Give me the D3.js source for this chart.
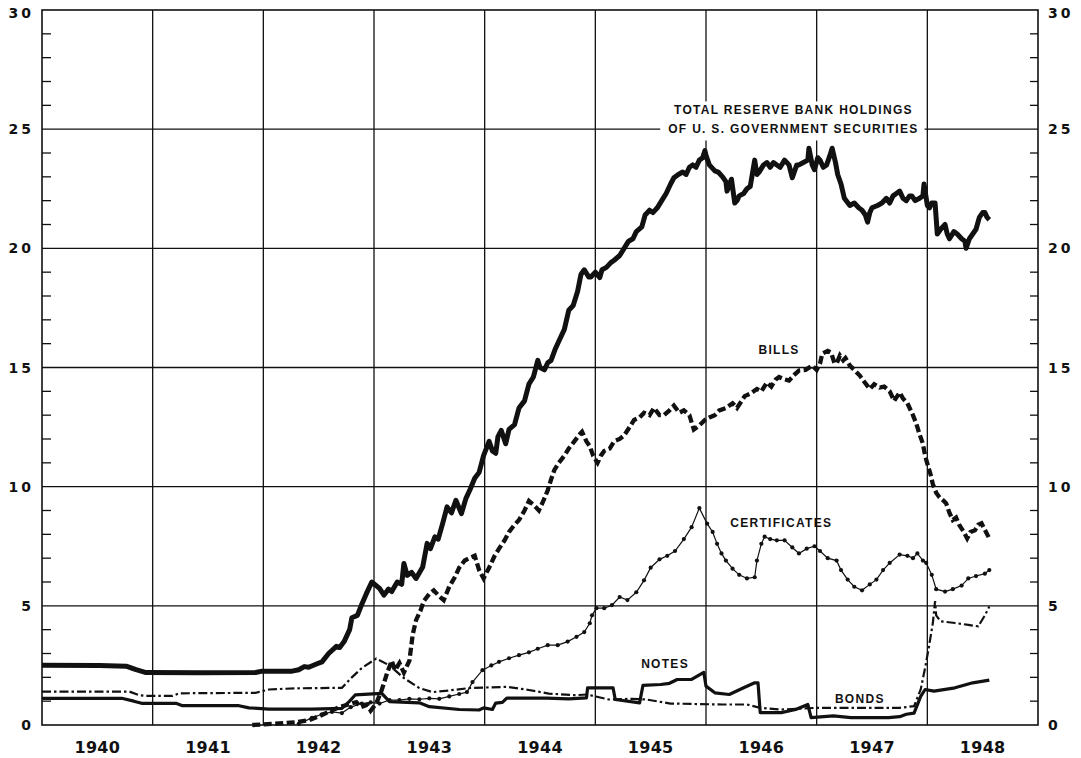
<!DOCTYPE html>
<html>
<head>
<meta charset="utf-8">
<script src="https://cdn.jsdelivr.net/npm/d3@7/dist/d3.min.js"></script>
<style>
  html, body { margin: 0; padding: 0; background: #fff; }
  svg { display: block; }
  .tick-num { font-family: "DejaVu Sans", sans-serif; font-weight: bold; font-size: 14px; letter-spacing: 3px; fill: #111; }
  .year { font-family: "DejaVu Sans", sans-serif; font-weight: bold; font-size: 16px; letter-spacing: 0.3px; fill: #111; }
  .lbl { font-family: "Liberation Sans", Arial, sans-serif; font-weight: bold; font-size: 12px; letter-spacing: 1.3px; fill: #111; }
</style>
</head>
<body>
<div id="chart"></div>
<script>
// billions of dollars, [year, value]
const totalHoldings = [
  [1940.00, 2.51], [1940.52, 2.50], [1940.76, 2.47], [1940.85, 2.32], [1940.94, 2.20], [1941.42, 2.19],
  [1941.93, 2.20], [1941.99, 2.26], [1942.26, 2.26], [1942.32, 2.32], [1942.37, 2.45], [1942.41, 2.42],
  [1942.48, 2.56], [1942.53, 2.65], [1942.59, 3.0], [1942.66, 3.3], [1942.69, 3.25], [1942.73, 3.5],
  [1942.78, 4.0], [1942.80, 4.5], [1942.85, 4.6], [1942.88, 4.96], [1942.93, 5.5], [1942.98, 6.0],
  [1943.05, 5.73], [1943.09, 5.45], [1943.13, 5.7], [1943.16, 5.6], [1943.21, 6.0], [1943.25, 5.9],
  [1943.27, 6.78], [1943.30, 6.28], [1943.34, 6.4], [1943.38, 6.15], [1943.44, 6.63], [1943.48, 7.62],
  [1943.51, 7.4], [1943.55, 7.89], [1943.58, 7.8], [1943.62, 8.45], [1943.66, 9.15], [1943.70, 8.9],
  [1943.74, 9.43], [1943.79, 8.87], [1943.83, 9.5], [1943.87, 9.9], [1943.91, 10.35], [1943.95, 10.6],
  [1943.99, 11.3], [1944.04, 11.9], [1944.07, 11.5], [1944.10, 11.4], [1944.12, 12.1], [1944.15, 12.36],
  [1944.19, 11.8], [1944.22, 12.4], [1944.27, 12.6], [1944.31, 13.3], [1944.36, 13.6], [1944.40, 14.3],
  [1944.44, 14.6], [1944.48, 15.3], [1944.50, 15.0], [1944.54, 14.9], [1944.57, 15.2], [1944.60, 15.3],
  [1944.64, 15.8], [1944.67, 16.1], [1944.72, 16.6], [1944.76, 17.4], [1944.80, 17.6], [1944.84, 18.2],
  [1944.87, 18.9], [1944.90, 19.1], [1944.94, 18.8], [1944.96, 18.8], [1945.00, 19.0], [1945.04, 18.77],
  [1945.06, 19.1], [1945.10, 19.2], [1945.14, 19.4], [1945.17, 19.5], [1945.22, 19.7], [1945.26, 20.0],
  [1945.30, 20.3], [1945.34, 20.4], [1945.37, 20.7], [1945.42, 20.9], [1945.45, 21.4], [1945.49, 21.6],
  [1945.52, 21.5], [1945.56, 21.7], [1945.60, 22.0], [1945.64, 22.3], [1945.68, 22.7], [1945.71, 22.96],
  [1945.75, 23.1], [1945.79, 23.2], [1945.82, 23.1], [1945.85, 23.4], [1945.88, 23.5], [1945.91, 23.4],
  [1945.94, 23.7], [1945.97, 23.8], [1945.99, 24.1], [1946.00, 23.9], [1946.03, 23.5], [1946.08, 23.25],
  [1946.11, 23.2], [1946.15, 23.0], [1946.18, 22.8], [1946.19, 22.4], [1946.23, 22.9], [1946.26, 21.9],
  [1946.28, 22.0], [1946.30, 22.2], [1946.34, 22.3], [1946.37, 22.5], [1946.40, 22.6], [1946.44, 23.7],
  [1946.46, 23.1], [1946.48, 23.2], [1946.52, 23.5], [1946.55, 23.6], [1946.58, 23.4], [1946.61, 23.6],
  [1946.64, 23.5], [1946.67, 23.4], [1946.71, 23.7], [1946.75, 23.5], [1946.78, 22.96], [1946.82, 23.5],
  [1946.84, 23.5], [1946.88, 23.6], [1946.92, 23.7], [1946.93, 24.2], [1946.96, 23.5], [1946.98, 23.3],
  [1947.01, 23.8], [1947.03, 23.7], [1947.06, 23.4], [1947.09, 23.5], [1947.12, 23.9], [1947.14, 24.2],
  [1947.17, 23.6], [1947.19, 23.1], [1947.22, 22.7], [1947.25, 22.1], [1947.30, 21.8], [1947.34, 21.9],
  [1947.38, 21.7], [1947.41, 21.6], [1947.44, 21.4], [1947.46, 21.1], [1947.48, 21.5], [1947.50, 21.7],
  [1947.55, 21.8], [1947.59, 21.9], [1947.63, 22.1], [1947.66, 21.9], [1947.69, 22.2], [1947.72, 22.3],
  [1947.75, 22.4], [1947.78, 22.1], [1947.81, 22.0], [1947.84, 22.2], [1947.86, 22.2], [1947.89, 22.0],
  [1947.93, 22.1], [1947.96, 22.2], [1947.97, 22.7], [1948.00, 21.8], [1948.02, 21.7], [1948.04, 21.9],
  [1948.07, 21.9], [1948.09, 20.6], [1948.12, 20.8], [1948.16, 21.0], [1948.18, 20.6], [1948.20, 20.4],
  [1948.24, 20.7], [1948.27, 20.6], [1948.31, 20.4], [1948.34, 20.3], [1948.35, 20.0], [1948.38, 20.4],
  [1948.41, 20.6], [1948.44, 20.8], [1948.47, 21.3], [1948.50, 21.5], [1948.52, 21.5], [1948.54, 21.3],
  [1948.56, 21.2]
];

const bills = [
  [1941.90, 0.0], [1942.10, 0.05], [1942.30, 0.12], [1942.41, 0.2], [1942.53, 0.42], [1942.61, 0.6],
  [1942.69, 0.75], [1942.76, 0.85], [1942.84, 0.96], [1942.88, 0.75], [1942.94, 0.85], [1942.97, 0.6],
  [1943.02, 0.9], [1943.07, 1.47], [1943.12, 2.2], [1943.16, 2.7], [1943.19, 2.3], [1943.23, 2.6],
  [1943.27, 2.2], [1943.32, 2.7], [1943.35, 3.8], [1943.38, 4.4], [1943.42, 4.8], [1943.45, 5.2],
  [1943.50, 5.5], [1943.54, 5.65], [1943.59, 5.4], [1943.63, 5.24], [1943.68, 5.8], [1943.73, 6.2],
  [1943.77, 6.6], [1943.82, 6.9], [1943.86, 7.0], [1943.91, 7.1], [1943.95, 6.5], [1943.99, 6.15],
  [1944.04, 6.6], [1944.09, 7.1], [1944.13, 7.4], [1944.18, 7.75], [1944.22, 8.1], [1944.27, 8.4],
  [1944.31, 8.6], [1944.36, 9.0], [1944.40, 9.4], [1944.45, 9.2], [1944.49, 9.0], [1944.53, 9.4],
  [1944.57, 9.85], [1944.60, 10.3], [1944.63, 10.7], [1944.67, 11.0], [1944.72, 11.3], [1944.76, 11.6],
  [1944.81, 11.9], [1944.86, 12.2], [1944.88, 12.3], [1944.92, 11.9], [1944.95, 11.7], [1944.98, 11.3],
  [1945.02, 11.0], [1945.05, 11.3], [1945.08, 11.5], [1945.13, 11.6], [1945.17, 11.9], [1945.22, 12.0],
  [1945.26, 12.15], [1945.31, 12.5], [1945.35, 12.8], [1945.40, 12.9], [1945.44, 13.1], [1945.49, 13.0],
  [1945.53, 13.3], [1945.58, 13.0], [1945.62, 13.0], [1945.67, 13.2], [1945.71, 13.4], [1945.76, 13.1],
  [1945.80, 13.2], [1945.85, 13.0], [1945.89, 12.4], [1945.94, 12.57], [1945.99, 12.8], [1946.03, 12.9],
  [1946.08, 13.0], [1946.12, 13.2], [1946.18, 13.3], [1946.24, 13.5], [1946.28, 13.3], [1946.35, 13.8],
  [1946.40, 13.9], [1946.46, 14.1], [1946.50, 14.0], [1946.55, 14.37], [1946.59, 14.2], [1946.63, 14.5],
  [1946.66, 14.6], [1946.71, 14.5], [1946.75, 14.45], [1946.80, 14.7], [1946.84, 14.87], [1946.90, 14.9],
  [1946.96, 15.08], [1947.00, 14.9], [1947.03, 15.16], [1947.05, 15.58], [1947.10, 15.7], [1947.13, 15.63],
  [1947.16, 15.2], [1947.18, 15.16], [1947.21, 15.5], [1947.24, 15.3], [1947.26, 15.4], [1947.30, 15.08],
  [1947.34, 14.9], [1947.39, 14.66], [1947.43, 14.4], [1947.48, 14.1], [1947.52, 14.3], [1947.57, 14.16],
  [1947.61, 14.2], [1947.66, 14.0], [1947.70, 13.6], [1947.75, 13.95], [1947.78, 13.7], [1947.82, 13.5],
  [1947.87, 13.0], [1947.90, 12.65], [1947.93, 12.2], [1947.96, 11.8], [1947.98, 11.3], [1948.00, 10.97],
  [1948.03, 10.5], [1948.05, 10.1], [1948.08, 9.75], [1948.11, 9.55], [1948.15, 9.4], [1948.17, 9.3],
  [1948.20, 8.9], [1948.23, 8.6], [1948.26, 8.7], [1948.29, 8.38], [1948.33, 8.1], [1948.36, 7.83],
  [1948.39, 8.1], [1948.43, 8.17], [1948.46, 8.4], [1948.49, 8.46], [1948.53, 8.1], [1948.56, 7.83]
];

const certificates = [
  [1942.32, 0.05], [1942.44, 0.3], [1942.53, 0.45], [1942.62, 0.55], [1942.71, 0.5], [1942.79, 0.75],
  [1942.89, 0.9], [1942.97, 0.95], [1943.05, 0.9], [1943.14, 1.05], [1943.23, 1.05], [1943.32, 1.1],
  [1943.41, 1.08], [1943.50, 1.12], [1943.59, 1.1], [1943.68, 1.2], [1943.77, 1.3], [1943.84, 1.38],
  [1943.89, 1.8], [1943.98, 2.3], [1944.06, 2.5], [1944.13, 2.65], [1944.22, 2.8], [1944.31, 2.93],
  [1944.40, 3.05], [1944.48, 3.2], [1944.57, 3.35], [1944.66, 3.35], [1944.75, 3.5], [1944.83, 3.7],
  [1944.90, 3.9], [1944.95, 4.27], [1944.97, 4.6], [1945.01, 4.9], [1945.08, 4.9], [1945.15, 5.03],
  [1945.22, 5.37], [1945.29, 5.24], [1945.37, 5.57], [1945.44, 6.07], [1945.50, 6.6], [1945.58, 6.95],
  [1945.65, 7.1], [1945.72, 7.3], [1945.80, 7.8], [1945.87, 8.3], [1945.94, 9.1], [1946.01, 8.45],
  [1946.06, 8.1], [1946.10, 7.6], [1946.14, 7.2], [1946.18, 6.9], [1946.24, 6.56], [1946.30, 6.3],
  [1946.37, 6.15], [1946.44, 6.2], [1946.46, 6.9], [1946.50, 7.6], [1946.53, 7.9], [1946.58, 7.8],
  [1946.64, 7.75], [1946.71, 7.75], [1946.78, 7.45], [1946.84, 7.2], [1946.91, 7.4], [1946.98, 7.5],
  [1947.03, 7.3], [1947.10, 7.0], [1947.18, 6.9], [1947.22, 6.5], [1947.28, 6.1], [1947.34, 5.8],
  [1947.41, 5.65], [1947.48, 5.9], [1947.54, 6.1], [1947.60, 6.5], [1947.66, 6.8], [1947.75, 7.15],
  [1947.82, 7.1], [1947.87, 7.0], [1947.91, 7.2], [1947.96, 6.9], [1947.99, 6.8], [1948.04, 6.3],
  [1948.08, 5.7], [1948.16, 5.6], [1948.23, 5.7], [1948.31, 5.85], [1948.37, 6.15], [1948.44, 6.25],
  [1948.52, 6.35], [1948.56, 6.5]
];

const notes = [
  [1940.00, 1.12], [1940.72, 1.12], [1940.83, 1.0], [1940.90, 0.91], [1941.21, 0.91], [1941.27, 0.81],
  [1941.78, 0.81], [1941.87, 0.72], [1942.05, 0.67], [1942.44, 0.67], [1942.71, 0.7], [1942.78, 1.0],
  [1942.83, 1.26], [1943.07, 1.33], [1943.14, 0.98], [1943.41, 0.93], [1943.50, 0.77], [1943.77, 0.65],
  [1943.95, 0.63], [1943.99, 0.72], [1944.07, 0.65], [1944.10, 0.92], [1944.16, 0.95], [1944.20, 1.13],
  [1944.56, 1.13], [1944.76, 1.1], [1944.92, 1.14], [1944.93, 1.56], [1945.16, 1.56], [1945.18, 1.07],
  [1945.40, 0.93], [1945.43, 1.66], [1945.59, 1.70], [1945.67, 1.75], [1945.74, 1.91], [1945.87, 1.91],
  [1945.98, 2.21], [1946.00, 1.63], [1946.08, 1.35], [1946.21, 1.28], [1946.34, 1.56], [1946.44, 1.77],
  [1946.47, 1.77], [1946.49, 0.52], [1946.68, 0.52], [1946.81, 0.65], [1946.92, 0.86], [1946.95, 0.31],
  [1947.15, 0.38], [1947.31, 0.31], [1947.65, 0.31], [1947.75, 0.35], [1947.81, 0.45], [1947.88, 0.5],
  [1947.94, 1.2], [1947.98, 1.49], [1948.06, 1.42], [1948.25, 1.56], [1948.41, 1.77], [1948.56, 1.88]
];

const bonds = [
  [1940.00, 1.40], [1940.79, 1.40], [1940.88, 1.25], [1940.94, 1.22], [1941.18, 1.22], [1941.24, 1.33],
  [1941.93, 1.35], [1942.05, 1.49], [1942.30, 1.54], [1942.71, 1.56], [1942.80, 2.0], [1942.89, 2.39],
  [1943.02, 2.79], [1943.14, 2.5], [1943.27, 1.97], [1943.41, 1.55], [1943.53, 1.38], [1943.68, 1.45],
  [1943.86, 1.55], [1944.20, 1.6], [1944.40, 1.47], [1944.58, 1.32], [1944.81, 1.25], [1944.93, 1.28],
  [1944.99, 1.21], [1945.12, 1.07], [1945.33, 1.10], [1945.46, 1.07], [1945.68, 0.90], [1946.15, 0.86],
  [1946.37, 0.86], [1946.49, 0.72], [1946.68, 0.65], [1947.00, 0.72], [1947.75, 0.72], [1947.88, 0.79],
  [1947.94, 1.49], [1947.98, 2.4], [1948.01, 3.16], [1948.05, 4.28], [1948.07, 5.2], [1948.08, 4.6],
  [1948.12, 4.35], [1948.25, 4.28], [1948.37, 4.2], [1948.46, 4.14], [1948.52, 4.6], [1948.56, 4.97]
];

const yearLabels = [1940, 1941, 1942, 1943, 1944, 1945, 1946, 1947, 1948];
const yTickLabels = [0, 5, 10, 15, 20, 25, 30];

const width = 1081, height = 758;
const svg = d3.select("#chart").append("svg")
  .attr("width", width)
  .attr("height", height);

const x = d3.scaleLinear().domain([1940, 1949]).range([42, 1038]);
const y = d3.scaleLinear().domain([0, 30]).range([725, 10]);

const frame = svg.append("g");

// grid: horizontal every 5, vertical at year boundaries
frame.selectAll(".hgrid")
  .data(yTickLabels.filter(d => d > 0 && d < 30))
  .enter().append("line")
  .attr("x1", x(1940)).attr("x2", x(1949))
  .attr("y1", d => y(d)).attr("y2", d => y(d))
  .attr("stroke", "#111").attr("stroke-width", 1.3);

frame.selectAll(".vgrid")
  .data(d3.range(1941, 1949))
  .enter().append("line")
  .attr("x1", d => x(d)).attr("x2", d => x(d))
  .attr("y1", y(30)).attr("y2", y(0))
  .attr("stroke", "#111").attr("stroke-width", 1.3);

// frame
frame.append("rect")
  .attr("x", x(1940)).attr("y", y(30))
  .attr("width", x(1949) - x(1940)).attr("height", y(0) - y(30))
  .attr("fill", "none").attr("stroke", "#111").attr("stroke-width", 1.6);

// minor ticks, both sides
const minor = d3.range(1, 30).filter(d => d % 5 !== 0);
frame.selectAll(".tl").data(minor).enter().append("line")
  .attr("x1", x(1940)).attr("x2", x(1940) + 9)
  .attr("y1", d => y(d)).attr("y2", d => y(d))
  .attr("stroke", "#111").attr("stroke-width", 1.3);
frame.selectAll(".tr").data(minor).enter().append("line")
  .attr("x1", x(1949) - 8).attr("x2", x(1949))
  .attr("y1", d => y(d)).attr("y2", d => y(d))
  .attr("stroke", "#111").attr("stroke-width", 1.3);

// y labels
svg.selectAll(".yl").data(yTickLabels).enter().append("text")
  .attr("class", "tick-num")
  .attr("x", x(1940) - 8)
  .attr("y", d => d === 30 ? y(d) + 3 : y(d))
  .attr("dy", "0.36em")
  .attr("text-anchor", "end")
  .text(d => d);
svg.selectAll(".yr").data(yTickLabels).enter().append("text")
  .attr("class", "tick-num")
  .attr("x", x(1949) + 10)
  .attr("y", d => d === 30 ? y(d) + 3 : y(d))
  .attr("dy", "0.36em")
  .attr("text-anchor", "start")
  .text(d => d);

// year labels
svg.selectAll(".year").data(yearLabels).enter().append("text")
  .attr("class", "year")
  .attr("x", d => x(d + 0.5))
  .attr("y", 747)
  .attr("dy", "0.36em")
  .attr("text-anchor", "middle")
  .text(d => d);

const line = d3.line().x(d => x(d[0])).y(d => y(d[1]));
const plot = svg.append("g");

plot.append("path").datum(bonds)
  .attr("d", line).attr("fill", "none").attr("stroke", "#111")
  .attr("stroke-width", 2.2).attr("stroke-dasharray", "9,3,2.5,3");

plot.append("path").datum(notes)
  .attr("d", line).attr("fill", "none").attr("stroke", "#111")
  .attr("stroke-width", 3.2).attr("stroke-linejoin", "round");

plot.append("path").datum(certificates)
  .attr("d", line).attr("fill", "none").attr("stroke", "#111")
  .attr("stroke-width", 1.2);
plot.selectAll(".cdot").data(certificates).enter().append("circle")
  .attr("cx", d => x(d[0])).attr("cy", d => y(d[1])).attr("r", 2.1)
  .attr("fill", "#111");

plot.append("path").datum(bills)
  .attr("d", line).attr("fill", "none").attr("stroke", "#111")
  .attr("stroke-width", 4.3).attr("stroke-dasharray", "8,3.5");

plot.append("path").datum(totalHoldings)
  .attr("d", line).attr("fill", "none").attr("stroke", "#111")
  .attr("stroke-width", 5).attr("stroke-linejoin", "round");

// labels
const labels = svg.append("g");
const titleBox = labels.append("g");
const t1 = titleBox.append("text").attr("class", "lbl")
  .attr("x", x(1946.79)).attr("y", y(25.8)).attr("dy", "0.36em")
  .attr("text-anchor", "middle").text("TOTAL RESERVE BANK HOLDINGS");
const t2 = titleBox.append("text").attr("class", "lbl")
  .attr("x", x(1946.79)).attr("y", y(25.0)).attr("dy", "0.36em")
  .attr("text-anchor", "middle").text("OF U. S. GOVERNMENT SECURITIES");
const b1 = t1.node().getBBox(), b2 = t2.node().getBBox();
const bx0 = Math.min(b1.x, b2.x) - 8, bx1 = Math.max(b1.x + b1.width, b2.x + b2.width) + 6;
titleBox.insert("rect", "text")
  .attr("x", bx0).attr("y", b1.y - 2)
  .attr("width", bx1 - bx0).attr("height", b2.y + b2.height - b1.y + 6)
  .attr("fill", "#fff");

labels.append("text").attr("class", "lbl")
  .attr("x", x(1946.66)).attr("y", y(15.74)).attr("dy", "0.36em")
  .attr("text-anchor", "middle").text("BILLS");
labels.append("text").attr("class", "lbl")
  .attr("x", x(1946.68)).attr("y", y(8.48)).attr("dy", "0.36em")
  .attr("text-anchor", "middle").text("CERTIFICATES");
labels.append("text").attr("class", "lbl")
  .attr("x", x(1945.63)).attr("y", y(2.56)).attr("dy", "0.36em")
  .attr("text-anchor", "middle").text("NOTES");
labels.append("text").attr("class", "lbl")
  .attr("x", x(1947.39)).attr("y", y(1.09)).attr("dy", "0.36em")
  .attr("text-anchor", "middle").text("BONDS");
</script>
</body>
</html>
